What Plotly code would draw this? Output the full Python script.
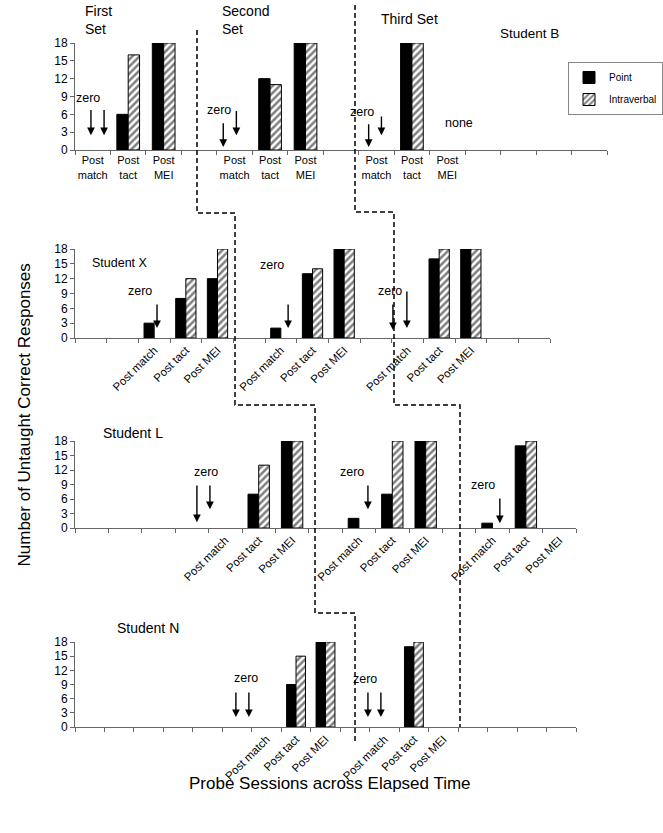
import plotly.graph_objects as go

W, H = 663, 833
FONT = "Liberation Sans, Arial, sans-serif"

# ---------------- data ----------------
B_labels = ["Post<br>match", "Post<br>tact", "Post<br>MEI", "",
            "Post<br>match", "Post<br>tact", "Post<br>MEI", "",
            "Post<br>match", "Post<br>tact", "Post<br>MEI", "", "", "", ""]
B_point  = [0, 6, 18, None, 0, 12, 18, None, 0, 18, None, None, None, None, None]
B_verbal = [0, 16, 18, None, 0, 11, 18, None, 0, 18, None, None, None, None, None]

X_labels = ["", "", "Post match", "Post tact", "Post MEI", "",
            "Post match", "Post tact", "Post MEI", "",
            "Post match", "Post tact", "Post MEI", "", ""]
X_point  = [None, None, 3, 8, 12, None, 2, 13, 18, None, 0, 16, 18, None, None]
X_verbal = [None, None, 0, 12, 18, None, 0, 14, 18, None, 0, 18, 18, None, None]

L_labels = ["", "", "", "", "Post match", "Post tact", "Post MEI", "",
            "Post match", "Post tact", "Post MEI", "",
            "Post match", "Post tact", "Post MEI"]
L_point  = [None, None, None, None, 0, 7, 18, None, 2, 7, 18, None, 1, 17, None]
L_verbal = [None, None, None, None, 0, 13, 18, None, 0, 18, 18, None, 0, 18, None]

N_labels = ["", "", "", "", "", "", "Post match", "Post tact", "Post MEI", "",
            "Post match", "Post tact", "Post MEI", "", "", "", ""]
N_point  = [None] * 6 + [0, 9, 18, None, 0, 17, None] + [None] * 4
N_verbal = [None] * 6 + [0, 15, 18, None, 0, 18, None] + [None] * 4

y_ticks = [0, 3, 6, 9, 12, 15, 18]

# "zero" arrows: x position in category units, tail value, tip value
B_arrow_x = [0.45, 0.82, 4.18, 4.55, 8.28, 8.64]
B_arrow_from = [7.0, 7.0, 4.75, 6.8, 4.6, 5.9]
B_arrow_to = [2.5, 2.5, 0.5, 2.5, 0.5, 2.5]

X_arrow_x = [2.59, 6.73, 10.04, 10.48]
X_arrow_from = [7.1, 7.1, 7.1, 9.7]
X_arrow_to = [2.0, 2.0, 1.6, 2.0]

L_arrow_x = [3.65, 4.04, 8.77, 12.72]
L_arrow_from = [9.1, 9.1, 9.1, 6.4]
L_arrow_to = [1.2, 3.9, 3.9, 1.0]

N_arrow_x = [5.46, 5.9, 9.94, 10.38]
N_arrow_from = [7.6, 7.6, 7.6, 7.6]
N_arrow_to = [2.1, 2.1, 2.1, 2.1]

# ---------------- layout helpers ----------------
def px(x):
    return x / W

def py(y):
    return 1 - y / H

def visible(vals):
    # a zero result is shown by an arrow, not a bar
    return [v if v else None for v in vals]

panels = [
    dict(labels=B_labels, point=B_point, verbal=B_verbal, xd=(75, 607), yd=(150, 43), angle=0,
         ax=B_arrow_x, af=B_arrow_from, at=B_arrow_to),
    dict(labels=X_labels, point=X_point, verbal=X_verbal, xd=(75, 550), yd=(338, 249), angle=-45,
         ax=X_arrow_x, af=X_arrow_from, at=X_arrow_to),
    dict(labels=L_labels, point=L_point, verbal=L_verbal, xd=(75, 576), yd=(528, 441), angle=-45,
         ax=L_arrow_x, af=L_arrow_from, at=L_arrow_to),
    dict(labels=N_labels, point=N_point, verbal=N_verbal, xd=(75, 576), yd=(727, 642), angle=-45,
         ax=N_arrow_x, af=N_arrow_from, at=N_arrow_to),
]

fig = go.Figure()
BW = 0.32
AXC = "#666"
annotations = []

for i, p in enumerate(panels):
    n = len(p["labels"])
    sfx = "" if i == 0 else str(i + 1)
    xref, yref = "x" + sfx, "y" + sfx
    centers = [k + 0.5 for k in range(n)]
    fig.add_trace(go.Bar(
        x=centers, y=visible(p["point"]), width=BW, offset=-BW,
        marker=dict(color="black", line=dict(color="black", width=1)),
        name="Point", showlegend=(i == 0), legendgroup="p",
        xaxis=xref, yaxis=yref))
    fig.add_trace(go.Bar(
        x=centers, y=visible(p["verbal"]), width=BW, offset=0,
        marker=dict(color="white", line=dict(color="black", width=1),
                    pattern=dict(shape="/", fgcolor="black", bgcolor="white",
                                 size=5, solidity=0.5)),
        name="Intraverbal", showlegend=(i == 0), legendgroup="v",
        xaxis=xref, yaxis=yref))
    tv = [c for c, l in zip(centers, p["labels"]) if l]
    tt = [l for l in p["labels"] if l]
    fig.update_layout({
        "xaxis" + sfx: dict(
            domain=[px(p["xd"][0]), px(p["xd"][1])], range=[0, n], anchor=yref,
            tickmode="array", tickvals=tv, ticktext=tt, ticks="", tickangle=p["angle"],
            tickfont=dict(family=FONT, size=11 if i == 0 else 11.5, color="black"),
            showline=True, linecolor=AXC, linewidth=1, showgrid=False, zeroline=False,
            minor=dict(tick0=0, dtick=1, ticks="outside", ticklen=4, tickcolor=AXC, showgrid=False),
            automargin=False, fixedrange=True),
        "yaxis" + sfx: dict(
            domain=[py(p["yd"][0]), py(p["yd"][1])], range=[0, 18], anchor=xref,
            tickmode="array", tickvals=y_ticks, ticks="outside", ticklen=4, tickcolor=AXC,
            tickfont=dict(family=FONT, size=12, color="black"),
            showline=True, linecolor=AXC, linewidth=1, showgrid=False, zeroline=False,
            automargin=False, fixedrange=True),
    })
    for xa, fa, ta in zip(p["ax"], p["af"], p["at"]):
        annotations.append(dict(
            x=xa, y=ta, ax=xa, ay=fa, xref=xref, yref=yref, axref=xref, ayref=yref,
            text="", showarrow=True, arrowhead=2, arrowsize=1.1, arrowwidth=1.4,
            arrowcolor="black", standoff=0, startstandoff=0))

# text labels (paper pixel positions)
def txt(s, x, y, size=13, xanchor="center"):
    annotations.append(dict(text=s, x=px(x), y=py(y), xref="paper", yref="paper",
                            xanchor=xanchor, yanchor="middle", showarrow=False,
                            font=dict(family=FONT, size=size, color="black"), align="left"))

zero_pos = [(88, 98), (219, 110), (362, 112), (140, 291), (272, 265), (390, 291),
            (206, 472), (352, 472), (483, 485), (246, 678), (365, 679)]
for zx, zy in zero_pos:
    txt("zero", zx, zy, 12.5)

txt("First<br>Set", 83, 20, 14, "left")
txt("Second<br>Set", 220, 20, 14, "left")
txt("Third Set", 379, 19, 14, "left")
txt("Student B", 498, 33, 13.5, "left")
txt("none", 443, 123, 12.5, "left")
txt("Student X", 90, 263, 12.5, "left")
txt("Student L", 101, 433, 14, "left")
txt("Student N", 115, 628, 14, "left")

annotations.append(dict(text="Number of Untaught Correct Responses", x=px(12), y=py(415),
                        xref="paper", yref="paper", textangle=-90, showarrow=False,
                        font=dict(family=FONT, size=17, color="black")))
annotations.append(dict(text="Probe Sessions across Elapsed Time", x=px(330), y=py(795),
                        xref="paper", yref="paper", showarrow=False,
                        font=dict(family=FONT, size=17, color="black")))

# phase-change dashed lines
def path(pts):
    s = "M %f %f" % (px(pts[0][0]), py(pts[0][1]))
    for x, y in pts[1:]:
        s += " L %f %f" % (px(x), py(y))
    return s

line1 = [(197, 30), (197, 213), (235, 213), (235, 405), (315, 405), (315, 613), (355, 613), (355, 743)]
line2 = [(355, 5), (355, 212), (394, 212), (394, 405), (460, 405), (460, 727)]
shapes = [dict(type="path", path=path(l), xref="paper", yref="paper",
               line=dict(color="black", width=1.5, dash="5px,3px")) for l in (line1, line2)]

fig.update_layout(
    width=W, height=H, margin=dict(l=0, r=0, t=0, b=0, autoexpand=False),
    paper_bgcolor="white", plot_bgcolor="white", barmode="overlay",
    annotations=annotations, shapes=shapes,
    legend=dict(x=1, y=py(62), xanchor="right", yanchor="top",
                bordercolor="#888", borderwidth=1, bgcolor="white",
                font=dict(family=FONT, size=10, color="black"),
                tracegroupgap=3, itemwidth=30),
)

fig.write_html("out.html", config={"displayModeBar": False},
               post_script="document.body.style.margin='0';document.body.style.overflow='hidden';")
